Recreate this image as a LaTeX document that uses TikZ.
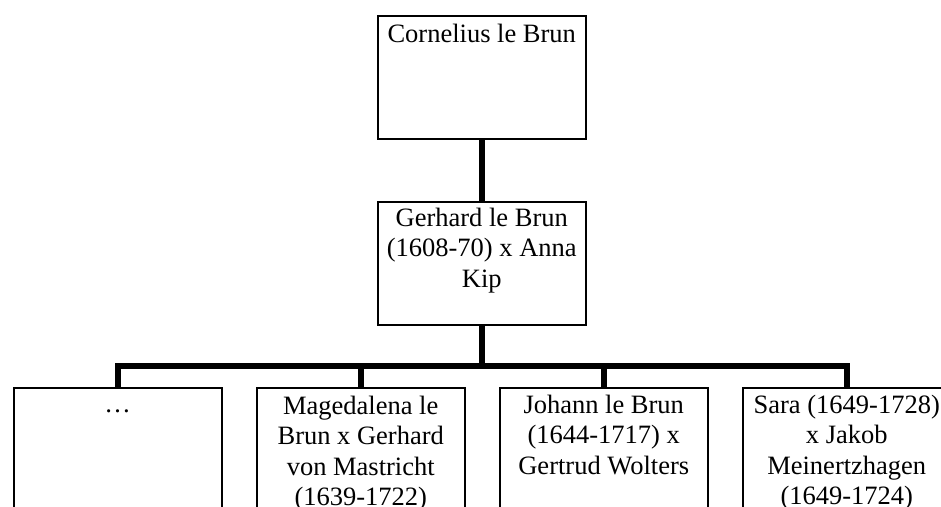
\documentclass[tikz,border=0pt]{standalone}
\usepackage{fontspec}
\setmainfont{Liberation Serif}
\newcommand\famname[1]{\parbox[t]{204pt}{\centering #1}}
\begin{document}
\begin{tikzpicture}[x=1pt,y=-1pt,
  person/.style={draw, line width=1.5pt, minimum width=208pt, minimum height=123pt,
    inner sep=0pt, anchor=north west},
  lowperson/.style={person, minimum height=160pt},
  nametext/.style={anchor=base, inner sep=0pt, font=\fontsize{26.5}{30.5}\selectfont},
  link/.style={line width=5.5pt, line join=miter}]
  \useasboundingbox (0,0) rectangle (941,506);
  \clip (0,0) rectangle (941,506);

  % generations, drawn as open-bottomed boxes on the last row
  \node[person] (cornelius) at (377,15) {};
  \node[person] (gerhard) at (377,201) {};
  \node[lowperson] (c1) at (13,387) {};
  \node[lowperson] (c2) at (256,387) {};
  \node[lowperson] (c3) at (499,387) {};
  \node[lowperson] (c4) at (742,387) {};

  % names, first baseline just below each box top
  \node[nametext] (tcornelius) at ([yshift=-27pt]cornelius.north) {\famname{Cornelius le Brun}};
  \node[nametext] (tgerhard) at ([yshift=-25pt]gerhard.north) {\famname{Gerhard le Brun\\(1608-70) x Anna\\Kip}};
  \node[nametext] (tc1) at ([yshift=-25pt]c1.north) {\famname{…}};
  \node[nametext] (tc2) at ([yshift=-27pt]c2.north) {\famname{Magedalena le\\Brun x Gerhard\\von Mastricht\\(1639-1722)}};
  \node[nametext] (tc3) at ([yshift=-26pt]c3.north) {\famname{Johann le Brun\\(1644-1717) x\\Gertrud Wolters}};
  \node[nametext] (tc4) at ([yshift=-26pt]c4.north) {\famname{Sara (1649-1728)\\x Jakob\\Meinertzhagen\\(1649-1724)}};

  % descent lines
  \coordinate (fork) at (gerhard.south |- 0,366);
  \draw[link] (cornelius.south) -- (gerhard.north);
  \draw[link] (gerhard.south) -- (fork);
  \foreach \c in {c1,c2,c3,c4}
    \draw[link] (fork) -| (\c.north);
\end{tikzpicture}
\end{document}
